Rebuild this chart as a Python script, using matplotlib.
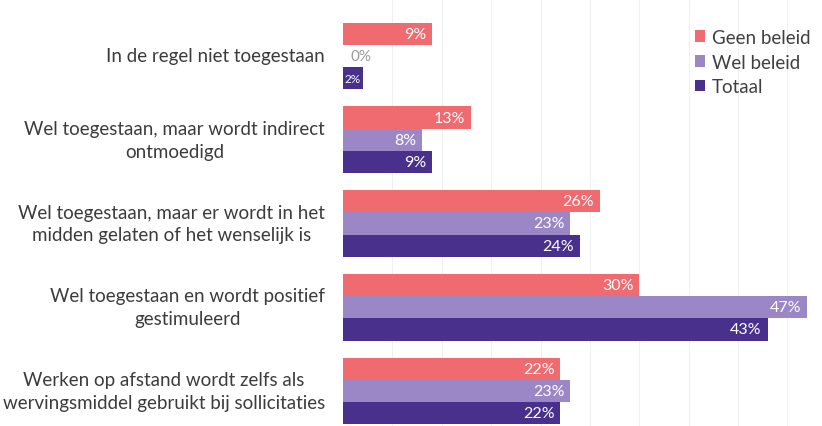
import numpy as np
import matplotlib
matplotlib.use("Agg")
import matplotlib.pyplot as plt

plt.rcParams['font.family'] = ['Lato', 'DejaVu Sans']

categories = [
    "In de regel niet toegestaan",
    "Wel toegestaan, maar wordt indirect\nontmoedigd",
    "Wel toegestaan, maar er wordt in het\nmidden gelaten of het wenselijk is",
    "Wel toegestaan en wordt positief\ngestimuleerd",
    "Werken op afstand wordt zelfs als\nwervingsmiddel gebruikt bij sollicitaties",
]
series_names = ["Geen beleid", "Wel beleid", "Totaal"]
geen_beleid = [9, 13, 26, 30, 22]
wel_beleid = [0, 8, 23, 47, 23]
totaal = [2, 9, 24, 43, 22]

colors = ["#ef6b70", "#9c87c6", "#48308c"]
series = [geen_beleid, wel_beleid, totaal]

fig = plt.figure(figsize=(8.22, 4.27), dpi=100)
ax = fig.add_axes([343 / 822, 0, 1 - 343 / 822, 1])

y = np.arange(len(categories))
h = 0.265
for i, (name, vals, col) in enumerate(zip(series_names, series, colors)):
    pos = y + (i - 1) * h
    ax.barh(pos, vals, height=h, color=col, label=name, zorder=2)
    for p, v in zip(pos, vals):
        if v == 0:
            ax.text(0.8, p, f"{v}%", va='center', ha='left', fontsize=11,
                    color='#9a9a9a')
        elif v < 4:
            # too short for the normal label size
            ax.text(v / 2, p, f"{v}%", va='center', ha='center', fontsize=8.5,
                    color='white')
        else:
            ax.text(v - 0.6, p, f"{v}%", va='center', ha='right', fontsize=11.5,
                    color='white')

ax.set_xlim(0, 48.5)
ax.set_ylim(4.418, -0.68)
ax.set_xticks(np.arange(5, 50, 5))
ax.grid(axis='x', color='#f0f0f0', linewidth=0.8, zorder=0)
ax.tick_params(left=False, bottom=False, labelbottom=False, labelleft=False)
for s in ax.spines.values():
    s.set_visible(False)

# category labels, centred multi-line, right edge near the bars
for yy, cat in zip(y, categories):
    ax.annotate(cat, xy=(0, yy), xycoords='data', xytext=(-13, 0),
                textcoords='offset points', ha='right', va='center',
                multialignment='center', fontsize=13.5, color='#3c3c3c',
                linespacing=1.4, annotation_clip=False)

leg = ax.legend(loc='upper left', bbox_to_anchor=(0.7, 0.97), frameon=False,
                fontsize=13.5, handlelength=0.55, handleheight=0.55,
                handletextpad=0.35, labelspacing=0.42, labelcolor='#404040')

fig.savefig("out.png", dpi=100)
